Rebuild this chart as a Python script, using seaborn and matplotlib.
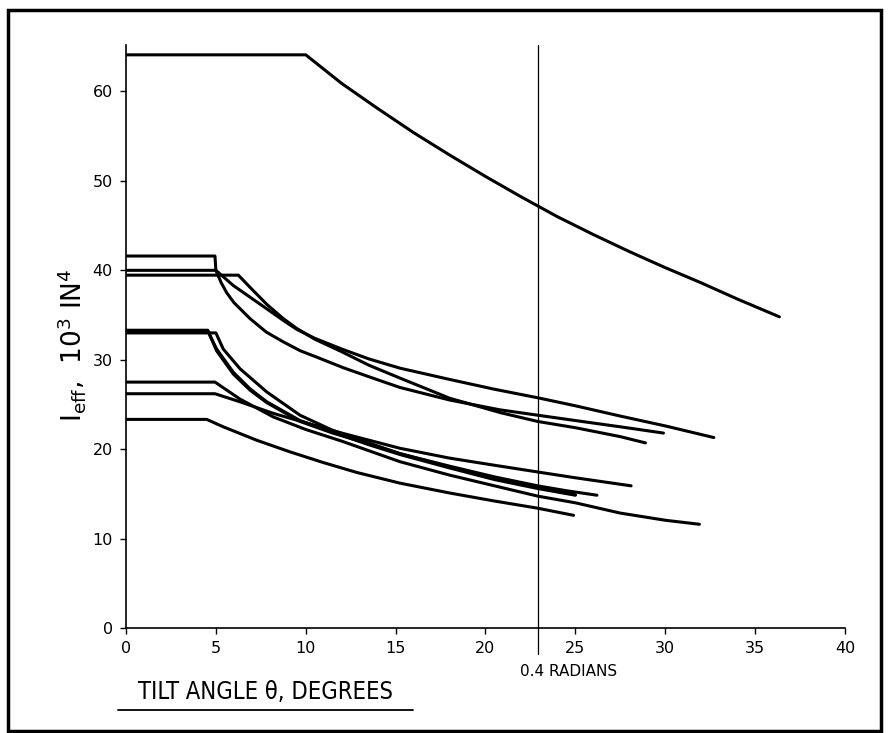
import matplotlib
matplotlib.use("Agg")
import matplotlib.pyplot as plt
from matplotlib.lines import Line2D
from matplotlib.patches import Rectangle
import numpy as np
import pandas as pd
import seaborn as sns

# ---------------- data ----------------
top_x = [0, 10, 12, 14, 16, 18, 20, 22, 24, 26, 28, 30, 32, 34, 36.35]
top_y = [64.1, 64.1, 60.9, 58.1, 55.4, 52.9, 50.5, 48.2, 46.0, 44.0, 42.1, 40.3, 38.6, 36.8, 34.8]

u41_x = [0, 4.95, 5.0, 5.3, 5.6, 6.0, 6.9, 7.8, 8.75, 9.7, 10.6, 12.1, 13.8, 15.24, 18, 20.8, 22.9, 25, 27.5, 29.9]
u41_y = [41.6, 41.6, 40.0, 38.6, 37.5, 36.4, 34.6, 33.1, 32.0, 31.0, 30.3, 29.1, 27.9, 26.9, 25.5, 24.4, 23.8, 23.2, 22.5, 21.8]

u40_x = [0, 5.0, 5.97, 6.9, 7.83, 8.75, 9.5, 10.5, 12, 13.5, 15.24, 18, 20.5, 22.9, 25, 27.5, 30, 32.7]
u40_y = [40.0, 40.0, 38.3, 37.0, 35.7, 34.4, 33.4, 32.4, 31.2, 30.1, 29.06, 27.8, 26.7, 25.75, 24.85, 23.7, 22.6, 21.3]

u39_x = [0, 6.25, 6.9, 7.83, 8.75, 9.5, 10.5, 12, 13.5, 15.24, 18, 20.8, 22.9, 25, 27.5, 28.9]
u39_y = [39.46, 39.46, 38.1, 36.2, 34.6, 33.5, 32.3, 30.9, 29.4, 27.95, 25.7, 24.1, 23.1, 22.4, 21.4, 20.7]

c1_x = [0, 4.55, 5.04, 5.97, 6.9, 7.83, 9.68, 11.5, 13.5, 15.24, 18, 20.5, 22.9, 25.0]
c1_y = [33.2, 33.2, 31.2, 28.6, 26.75, 25.3, 23.2, 21.9, 20.5, 19.4, 17.9, 16.6, 15.6, 14.85]

c2_x = [0, 5.0, 5.41, 6.34, 7.83, 9.68, 11.5, 13.5, 15.24, 18, 20.5, 22.9, 25.0]
c2_y = [33.0, 33.0, 31.2, 29.0, 26.4, 23.8, 22.1, 20.7, 19.5, 18.0, 16.7, 15.7, 14.9]

b_x = [0, 4.55, 5.04, 5.97, 6.9, 7.83, 9.68, 11.5, 13.5, 15.24, 18, 20.5, 22.9, 24.5, 26.2]
b_y = [33.3, 33.3, 31.0, 28.4, 26.6, 25.2, 23.1, 21.8, 20.6, 19.5, 18.1, 16.9, 15.9, 15.35, 14.85]

a_x = [0, 4.95, 6.34, 8.2, 10, 12, 15.24, 18, 20.5, 22.9, 25, 28.1]
a_y = [26.2, 26.2, 25.3, 24.0, 22.95, 21.8, 20.1, 19.0, 18.2, 17.45, 16.8, 15.9]

d_x = [0, 4.95, 6.34, 8.2, 10, 12, 15.24, 18, 20.5, 22.9, 25, 27.5, 30, 31.9]
d_y = [27.5, 27.5, 25.6, 23.6, 22.2, 20.9, 18.6, 17.1, 15.9, 14.75, 14.0, 12.85, 12.05, 11.6]

e_x = [0, 4.49, 5.41, 7.27, 9.12, 10.98, 12.83, 15.24, 18, 20.5, 22.9, 24.9]
e_y = [23.33, 23.33, 22.5, 21.0, 19.7, 18.5, 17.4, 16.2, 15.1, 14.2, 13.4, 12.6]

x_ticks = [0, 5, 10, 15, 20, 25, 30, 35, 40]
y_ticks = [0, 10, 20, 30, 40, 50, 60]
radian_mark_deg = float(np.degrees(0.4))

curves = {
    "top": (top_x, top_y), "u41": (u41_x, u41_y), "u40": (u40_x, u40_y),
    "u39": (u39_x, u39_y), "c1": (c1_x, c1_y), "c2": (c2_x, c2_y),
    "b": (b_x, b_y), "a": (a_x, a_y), "d": (d_x, d_y), "e": (e_x, e_y),
}
rows = []
for name, (xs, ys) in curves.items():
    for i, (xv, yv) in enumerate(zip(xs, ys)):
        rows.append({"curve": name, "order": i, "theta": xv, "ieff": yv})
df = pd.DataFrame(rows)

# ---------------- plotting ----------------
sns.set_theme(style="ticks")
plt.rcParams["font.family"] = ["DejaVu Sans"]
plt.rcParams["text.color"] = "black"
plt.rcParams["axes.labelcolor"] = "black"

W, H = 889, 733
fig = plt.figure(figsize=(W / 100, H / 100), dpi=100)
ax = fig.add_axes([126 / W, 1 - 628 / H, (845 - 126) / W, (628 - 45) / H])

sns.lineplot(data=df, x="theta", y="ieff", units="curve", estimator=None,
             sort=False, color="black", linewidth=2.2, ax=ax, legend=False)

# 0.4 radian marker line (extends slightly below the axis, as in the reference)
ax.axvline(radian_mark_deg, color="black", linewidth=0.9, ymin=-0.044, ymax=1,
           clip_on=False)

ax.set_xlim(0, 40)
ax.set_ylim(0, 65.2)
ax.set_xticks(x_ticks)
ax.set_yticks(y_ticks)
ax.tick_params(direction="out", length=4.5, width=1, labelsize=11.5, colors="black", pad=5)
for s in ["top", "right"]:
    ax.spines[s].set_visible(False)
for s in ["left", "bottom"]:
    ax.spines[s].set_linewidth(1.2)
    ax.spines[s].set_color("black")
ax.set_xlabel("")
ax.set_ylabel("")
ax.grid(False)

fig.text(72 / W, 1 - 345 / H, r"$\mathrm{I_{eff}}$,  10$^3$ IN$^4$", fontsize=19,
         rotation=90, ha="center", va="center", color="black")
fig.text(520 / W, 1 - 671 / H, "0.4 RADIANS", fontsize=11, ha="left", va="center",
         color="black")
fig.text(265 / W, 1 - 692 / H, "TILT ANGLE θ, DEGREES", fontsize=17, ha="center",
         va="center", color="black", fontstretch="condensed")
fig.add_artist(Line2D([118 / W, 413 / W], [1 - 710 / H, 1 - 710 / H],
                      color="black", linewidth=1.3, transform=fig.transFigure))

fig.add_artist(Rectangle((8 / W, 1 - 731 / H), (881 - 8) / W, (731 - 10) / H,
                         fill=False, edgecolor="black", linewidth=2.5,
                         transform=fig.transFigure))

fig.savefig("out.png", dpi=100, facecolor="white")
